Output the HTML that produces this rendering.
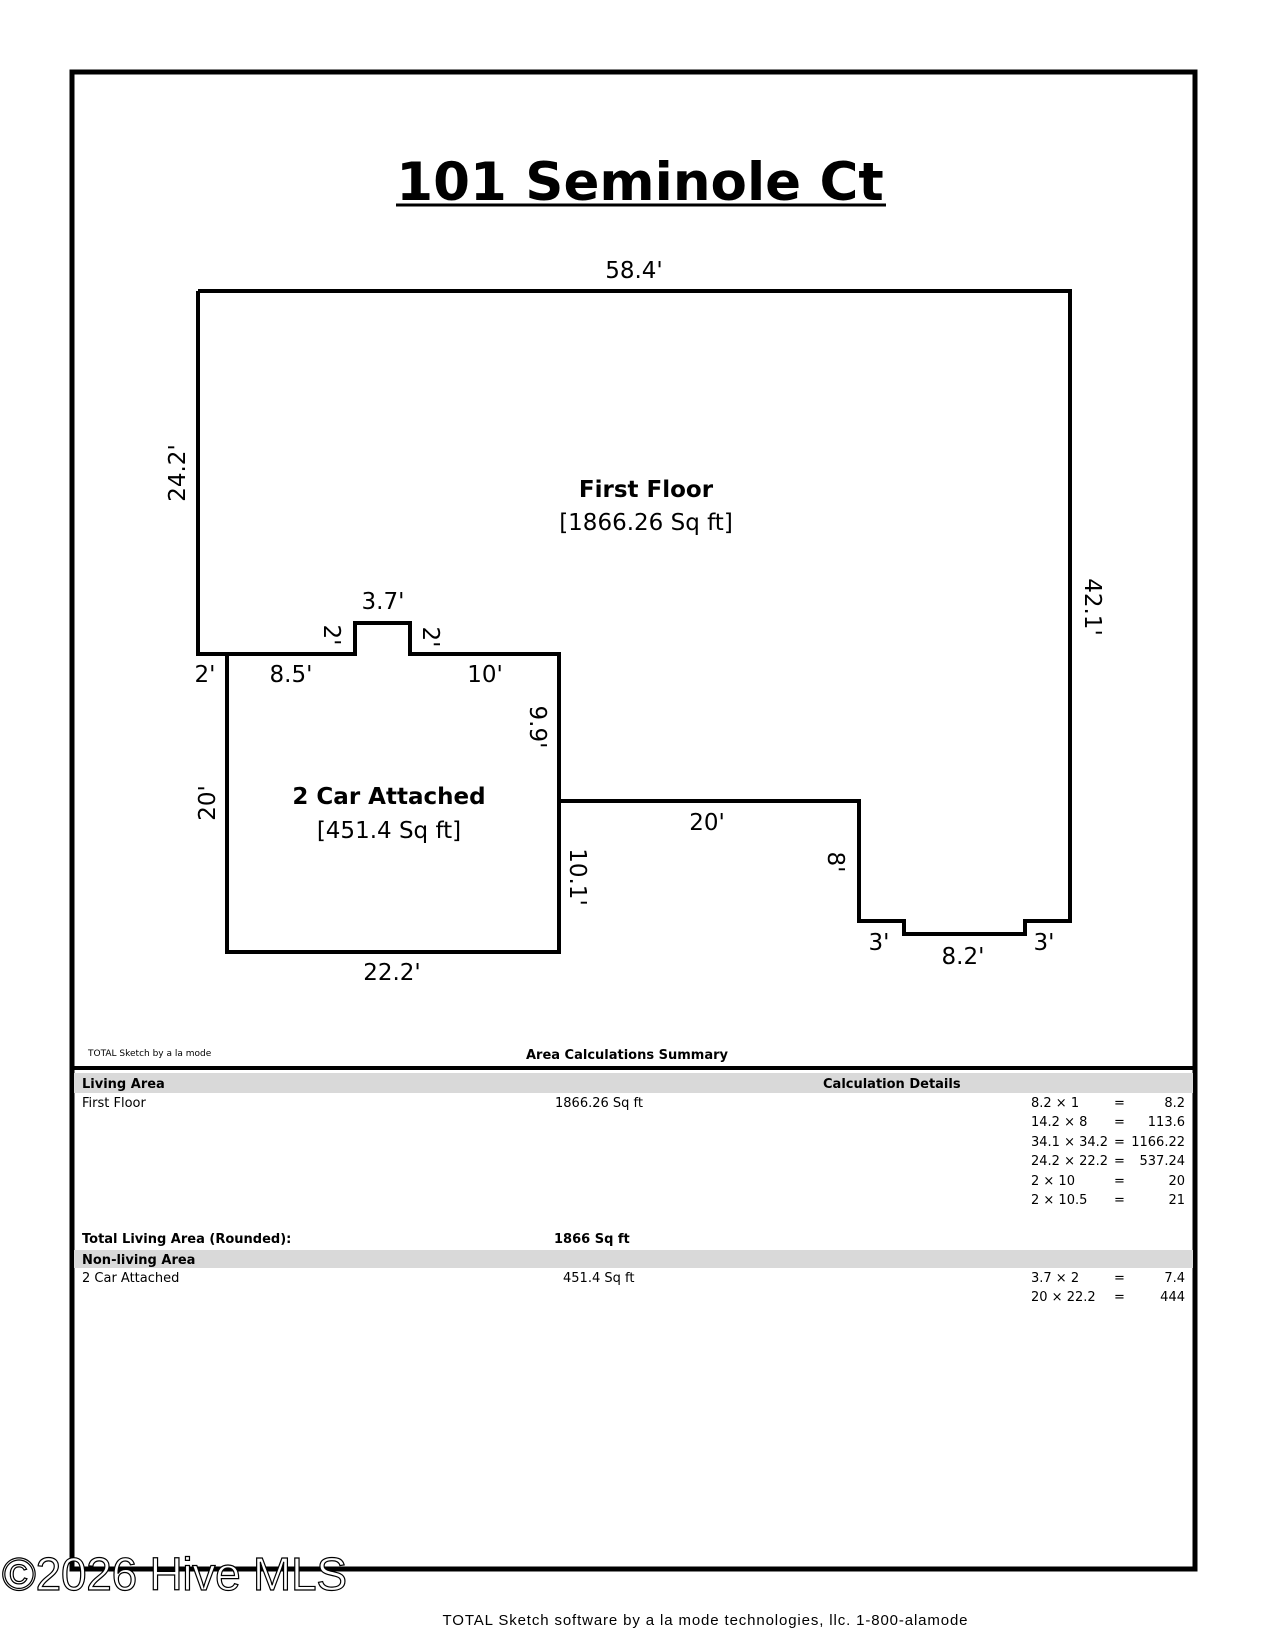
<!DOCTYPE html>
<html><head><style>
html,body{margin:0;padding:0;background:#fff;}
svg{display:block;}
text{font-family:"DejaVu Sans","Liberation Sans",sans-serif;fill:#000;}
.d{font-size:23px;}
.t{font-size:13px;}
</style></head><body>
<svg width="1275" height="1650" viewBox="0 0 1275 1650" xmlns="http://www.w3.org/2000/svg">
<rect x="72" y="72" width="1123" height="1497" fill="none" stroke="#000" stroke-width="5"/>
<line x1="72" y1="1068" x2="1195" y2="1068" stroke="#000" stroke-width="4"/>
<text x="640" y="200" text-anchor="middle" style="font-size:53px;font-weight:bold">101 Seminole Ct</text>
<line x1="396" y1="205" x2="886" y2="205" stroke="#000" stroke-width="3"/>
<g fill="none" stroke="#000" stroke-width="4">
<polyline points="198,291 1070,291 1070,921 1025,921 1025,934 904,934 904,921 859,921 859,801 559,801 559,654 410,654 410,623 355,623 355,654 198,654 198,291"/>
<polyline points="198,654 227,654 227,952 559,952 559,801"/>
</g>
<g class="d" text-anchor="middle">
<text x="634" y="278">58.4'</text>
<text transform="translate(185,473) rotate(-90)">24.2'</text>
<text x="646" y="497" style="font-weight:bold">First Floor</text>
<text x="646" y="530">[1866.26 Sq ft]</text>
<text transform="translate(1085,607) rotate(90)">42.1'</text>
<text x="383" y="609">3.7'</text>
<text transform="translate(324,635) rotate(90)">2'</text>
<text transform="translate(423,637) rotate(90)">2'</text>
<text x="205" y="682">2'</text>
<text x="291" y="682">8.5'</text>
<text x="485" y="682">10'</text>
<text transform="translate(530,727) rotate(90)">9.9'</text>
<text x="389" y="804" style="font-weight:bold">2 Car Attached</text>
<text x="389" y="838">[451.4 Sq ft]</text>
<text transform="translate(215,803) rotate(-90)">20'</text>
<text x="707" y="830">20'</text>
<text transform="translate(828,862) rotate(90)">8'</text>
<text transform="translate(570,877) rotate(90)">10.1'</text>
<text x="392" y="980">22.2'</text>
<text x="879" y="950">3'</text>
<text x="963" y="964">8.2'</text>
<text x="1044" y="950">3'</text>
</g>
<text x="88" y="1056" style="font-size:9px">TOTAL Sketch by a la mode</text>
<text x="627" y="1059" text-anchor="middle" class="t" style="font-weight:bold">Area Calculations Summary</text>
<rect x="74" y="1073" width="1119" height="20" fill="#d9d9d9"/>
<rect x="74" y="1250" width="1119" height="18" fill="#d9d9d9"/>
<g class="t">
<text x="82" y="1088" style="font-weight:bold">Living Area</text>
<text x="823" y="1088" style="font-weight:bold">Calculation Details</text>
<text x="82" y="1107">First Floor</text>
<text x="555" y="1107">1866.26 Sq ft</text>
<text x="1031" y="1107">8.2 × 1</text><text x="1114" y="1107">=</text><text x="1185" y="1107" text-anchor="end">8.2</text>
<text x="1031" y="1126">14.2 × 8</text><text x="1114" y="1126">=</text><text x="1185" y="1126" text-anchor="end">113.6</text>
<text x="1031" y="1146">34.1 × 34.2</text><text x="1114" y="1146">=</text><text x="1185" y="1146" text-anchor="end">1166.22</text>
<text x="1031" y="1165">24.2 × 22.2</text><text x="1114" y="1165">=</text><text x="1185" y="1165" text-anchor="end">537.24</text>
<text x="1031" y="1185">2 × 10</text><text x="1114" y="1185">=</text><text x="1185" y="1185" text-anchor="end">20</text>
<text x="1031" y="1204">2 × 10.5</text><text x="1114" y="1204">=</text><text x="1185" y="1204" text-anchor="end">21</text>
<text x="82" y="1243" style="font-weight:bold">Total Living Area (Rounded):</text>
<text x="554" y="1243" style="font-weight:bold">1866 Sq ft</text>
<text x="82" y="1264" style="font-weight:bold">Non-living Area</text>
<text x="82" y="1282">2 Car Attached</text>
<text x="563" y="1282">451.4 Sq ft</text>
<text x="1031" y="1282">3.7 × 2</text><text x="1114" y="1282">=</text><text x="1185" y="1282" text-anchor="end">7.4</text>
<text x="1031" y="1301">20 × 22.2</text><text x="1114" y="1301">=</text><text x="1185" y="1301" text-anchor="end">444</text>
</g>
<text x="2" y="1590" style="font-family:'Liberation Sans',sans-serif;font-size:46px;fill:#fff;stroke:#000;stroke-width:1.2" textLength="345">©2026 Hive MLS</text>
<text x="705" y="1625" text-anchor="middle" style="font-family:'Liberation Sans',sans-serif;font-size:15px" textLength="525">TOTAL Sketch software by a la mode technologies, llc. 1-800-alamode</text>
</svg>
</body></html>
